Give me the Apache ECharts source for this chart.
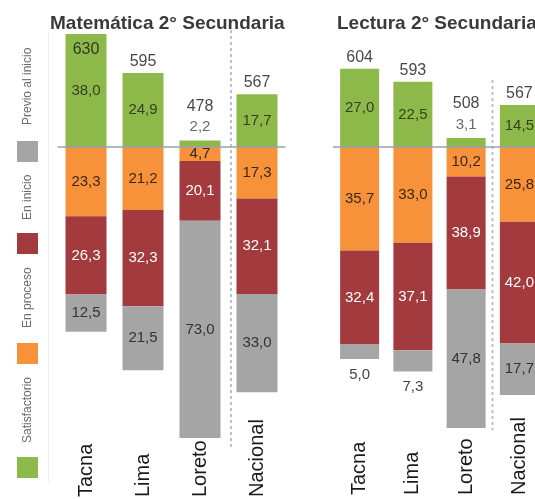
<!DOCTYPE html>
<html>
<head>
<meta charset="utf-8">
<script src="https://cdn.jsdelivr.net/npm/echarts@6/dist/echarts.min.js"></script>
<style>
  html, body { margin: 0; padding: 0; background: #ffffff; }
  #chart { width: 535px; height: 499px; }
</style>
</head>
<body>
<div id="chart"></div>
<script>
// Regions compared in both panels
const regions = ['Tacna', 'Lima', 'Loreto', 'Nacional'];

// Matemática 2° Secundaria: average score and % of students per level
const matTotal          = [630, 595, 478, 567];
const matSatisfactorio  = [38.0, 24.9, 2.2, 17.7];
const matEnProceso      = [23.3, 21.2, 4.7, 17.3];
const matEnInicio       = [26.3, 32.3, 20.1, 32.1];
const matPrevio         = [12.5, 21.5, 73.0, 33.0];

// Lectura 2° Secundaria
const lecTotal          = [604, 593, 508, 567];
const lecSatisfactorio  = [27.0, 22.5, 3.1, 14.5];
const lecEnProceso      = [35.7, 33.0, 10.2, 25.8];
const lecEnInicio       = [32.4, 37.1, 38.9, 42.0];
const lecPrevio         = [5.0, 7.3, 47.8, 17.7];

// Achievement levels, bottom to top
const levels = ['Previo al inicio', 'En inicio', 'En proceso', 'Satisfactorio'];

const FONT = '"Liberation Sans", Arial, Helvetica, sans-serif';
const COLOR = {
  'Satisfactorio': '#8db94a',
  'En proceso': '#f7923a',
  'En inicio': '#a33a3e',
  'Previo al inicio': '#a5a5a5'
};

const pct = v => Math.abs(v).toFixed(1).replace('.', ',');

// Builds the stacked bars of one panel: satisfactorio above zero,
// the other three levels stacked downwards below zero.
function panelSeries(gi, total, sat, proc, ini, prev, barWidth) {
  const base = {
    type: 'bar', xAxisIndex: gi, yAxisIndex: gi, stack: 'p' + gi,
    barWidth: barWidth, barGap: '0%'
  };
  const lbl = (color) => ({
    show: true, position: 'inside', fontFamily: FONT, fontSize: 15, color: color,
    formatter: p => pct(p.value)
  });
  return [
    Object.assign({}, base, {
      name: 'Satisfactorio',
      itemStyle: { color: COLOR['Satisfactorio'] },
      label: lbl('#354020'),
      data: sat.map(v => v < 5 ? { value: v, label: { show: false } } : v),
      markLine: {
        silent: true, symbol: 'none', animation: false,
        label: { show: false },
        lineStyle: { color: '#98a2ae', width: 1.5, type: 'solid' },
        data: [{ yAxis: 0 }]
      }
    }),
    Object.assign({}, base, {
      name: 'En proceso',
      itemStyle: { color: COLOR['En proceso'] },
      label: lbl('#3a2815'),
      data: proc.map(v => -v)
    }),
    Object.assign({}, base, {
      name: 'En inicio',
      itemStyle: { color: COLOR['En inicio'] },
      label: lbl('#ffffff'),
      data: ini.map(v => -v)
    }),
    Object.assign({}, base, {
      name: 'Previo al inicio',
      itemStyle: { color: COLOR['Previo al inicio'] },
      label: lbl('#333333'),
      data: prev.map(v => v < 10
        ? { value: -v, label: { position: 'bottom', distance: 8, color: '#444444' } }
        : -v)
    }),
    // Average score written above each bar
    {
      type: 'scatter', xAxisIndex: gi, yAxisIndex: gi,
      symbolSize: 1, itemStyle: { color: 'rgba(0,0,0,0)' },
      silent: true, z: 5,
      data: sat.map((v, i) => {
        const item = { value: [i, v] };
        if (v >= 35) {
          item.label = { position: 'bottom', distance: 7, formatter: String(total[i]) };
        } else if (v < 5) {
          item.label = { position: 'top', distance: 3,
            formatter: '{t|' + total[i] + '}\n{p|' + pct(v) + '}' };
        } else {
          item.label = { position: 'top', distance: 3, formatter: String(total[i]) };
        }
        return item;
      }),
      label: {
        show: true, fontFamily: FONT, fontSize: 16, color: '#151515',
        rich: {
          t: { fontFamily: FONT, fontSize: 16, color: '#151515', lineHeight: 21 },
          p: { fontFamily: FONT, fontSize: 15, color: '#444444', lineHeight: 20 }
        }
      }
    }
  ];
}

function xAxisFor(gi, offset) {
  return {
    gridIndex: gi, type: 'category', data: regions, position: 'bottom', offset: offset,
    axisLine: { show: false, onZero: false }, axisTick: { show: false },
    splitLine: { show: false },
    axisLabel: {
      rotate: 90, align: 'left', margin: 0, interval: 0,
      fontFamily: FONT, fontSize: 20, color: '#1a1a1a'
    }
  };
}
function yAxisFor(gi) {
  return { gridIndex: gi, type: 'value', min: -100, max: 40, show: false };
}

// Legend drawn as rotated text with a colour square below each label
const legendSquares = [141, 233, 343, 457];
const legendTextEnds = [125, 220, 328, 443];
const legendGraphics = [];
levels.forEach((name, i) => {
  legendGraphics.push({
    type: 'rect', shape: { x: 17, y: legendSquares[i], width: 21, height: 21 },
    style: { fill: COLOR[name] }, silent: true
  });
  legendGraphics.push({
    type: 'text', x: 28, y: legendTextEnds[i], rotation: Math.PI / 2, silent: true,
    style: {
      text: name, fill: '#6a6a6a', fontFamily: FONT, fontSize: 12,
      align: 'left', verticalAlign: 'middle', textAlign: 'left', textVerticalAlign: 'middle'
    }
  });
});

const chart = echarts.init(document.getElementById('chart'), null, { renderer: 'canvas' });
chart.setOption({
  backgroundColor: '#ffffff',
  animation: false,
  title: [
    { text: 'Matemática 2° Secundaria', left: 45, top: 9,
      textStyle: { fontFamily: FONT, fontSize: 19, fontWeight: 'bold', color: '#3a3a3a' } },
    { text: 'Lectura 2° Secundaria', left: 332, top: 9,
      textStyle: { fontFamily: FONT, fontSize: 19, fontWeight: 'bold', color: '#3a3a3a' } }
  ],
  grid: [
    { left: 57.5, width: 228, top: 28, height: 416.5, outerBoundsMode: 'none', containLabel: false },
    { left: 333, width: 213, top: 31, height: 406, outerBoundsMode: 'none', containLabel: false }
  ],
  xAxis: [xAxisFor(0, 52.5), xAxisFor(1, 58)],
  yAxis: [yAxisFor(0), yAxisFor(1)],
  series: [].concat(
    panelSeries(0, matTotal, matSatisfactorio, matEnProceso, matEnInicio, matPrevio, 41),
    panelSeries(1, lecTotal, lecSatisfactorio, lecEnProceso, lecEnInicio, lecPrevio, 39)
  ),
  graphic: [
    // faint frame edge to the right of the legend
    { type: 'line', shape: { x1: 48.5, y1: 32, x2: 48.5, y2: 482 }, silent: true,
      style: { stroke: '#efefef', lineWidth: 1 } },
    // dashed separators before the national bar
    { type: 'line', shape: { x1: 231, y1: 30, x2: 231, y2: 447 }, silent: true,
      style: { stroke: '#b9c2cf', lineWidth: 2, lineDash: [3, 3] } },
    { type: 'line', shape: { x1: 492.5, y1: 80, x2: 492.5, y2: 430 }, silent: true,
      style: { stroke: '#b9c2cf', lineWidth: 2, lineDash: [3, 3] } }
  ].concat(legendGraphics)
});
</script>
</body>
</html>
